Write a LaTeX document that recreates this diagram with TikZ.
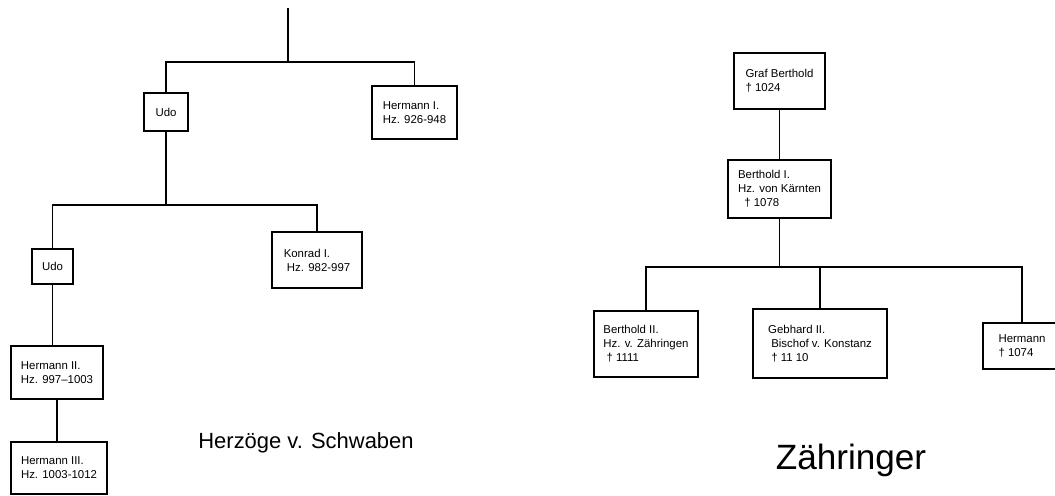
\documentclass[tikz,border=0pt]{standalone}
\usepackage{fontspec}
\setmainfont{Liberation Sans}
\begin{document}
\begin{tikzpicture}[
        person/.style={
            draw=black,
            line width=1pt,
            fill=white,
            align=left,
            inner sep=2pt,
            font=\fontsize{6.5}{8}\selectfont,
        },
        line/.style={
            draw=black,
            line width=0.8pt,
        },
        title/.style={
            font=\fontsize{12.5}{15}\selectfont,
        },
        x=0.02cm, y=-0.02cm,
    ]

    \useasboundingbox (0, 0) rectangle (1055, 495);

    % Herzoege v. Schwaben
    \node[person, minimum width=0.88cm, minimum height=0.76cm] (udoA)  at (166, 112)   {Udo};
    \node[person, minimum width=1.70cm, minimum height=1.06cm] (hermA) at (414.5, 112.5) {Hermann I.\\Hz. 926-948};
    \node[person, minimum width=0.82cm, minimum height=0.70cm] (udoB)  at (52.5, 266.5) {Udo};
    \node[person, minimum width=1.80cm, minimum height=1.12cm] (konrad) at (317, 260)  {Konrad I.\\ \ Hz. 982-997};
    \node[person, minimum width=1.84cm, minimum height=1.06cm] (hermB) at (57, 372.5)  {Hermann II.\\Hz. 997--1003};
    \node[person, minimum width=1.92cm, minimum height=1.04cm] (hermC) at (59, 468)    {Hermann III.\\Hz. 1003-1012};

    \coordinate (top) at (288, 8);
    \coordinate (jA)  at (288, 62);
    \coordinate (jB)  at (166, 205);

    \draw[line] (top) -- (jA);
    \draw[line] (udoA.north) |- (jA) -| (hermA.north);
    \draw[line] (udoA.south) -- (jB);
    \draw[line] (udoB.north) |- (jB) -| (konrad.north);
    \draw[line] (udoB.south) -- (udoB.south |- hermB.north);
    \draw[line] (hermB.south) -- (hermB.south |- hermC.north);

    \node[title] (schwaben) at (306, 443) {Herzöge v. Schwaben};

    % Zaehringer
    \node[person, minimum width=1.82cm, minimum height=1.12cm] (graf)    at (779.5, 81)  {Graf Berthold\\ † 1024};
    \node[person, minimum width=2.06cm, minimum height=1.16cm] (berthA)  at (779.5, 189) {Berthold I.\\ Hz. von Kärnten\\ \ \ † 1078};
    \node[person, minimum width=2.08cm, minimum height=1.32cm] (berthB)  at (646, 344)   {Berthold II.\\Hz. v. Zähringen\\ \ † 1111};
    \node[person, minimum width=2.68cm, minimum height=1.38cm] (gebhard) at (820, 343.5) {Gebhard II.\\ \ Bischof v. Konstanz\\ \ † 11 10};
    \node[person, minimum width=1.56cm, minimum height=0.92cm] (hermD)   at (1022, 346)  {Hermann\\ † 1074};

    \coordinate (jC) at (779.5, 267);

    \draw[line] (graf) -- (berthA);
    \draw[line] (berthA.south) -- (jC);
    \draw[line] (berthB.north) |- (jC) -| (hermD.north);
    \draw[line] (gebhard.north) -- (gebhard.north |- jC);

    \node[title, font=\fontsize{20}{24}\selectfont] (zaehr) at (851, 460) {Zähringer};

\end{tikzpicture}
\end{document}
